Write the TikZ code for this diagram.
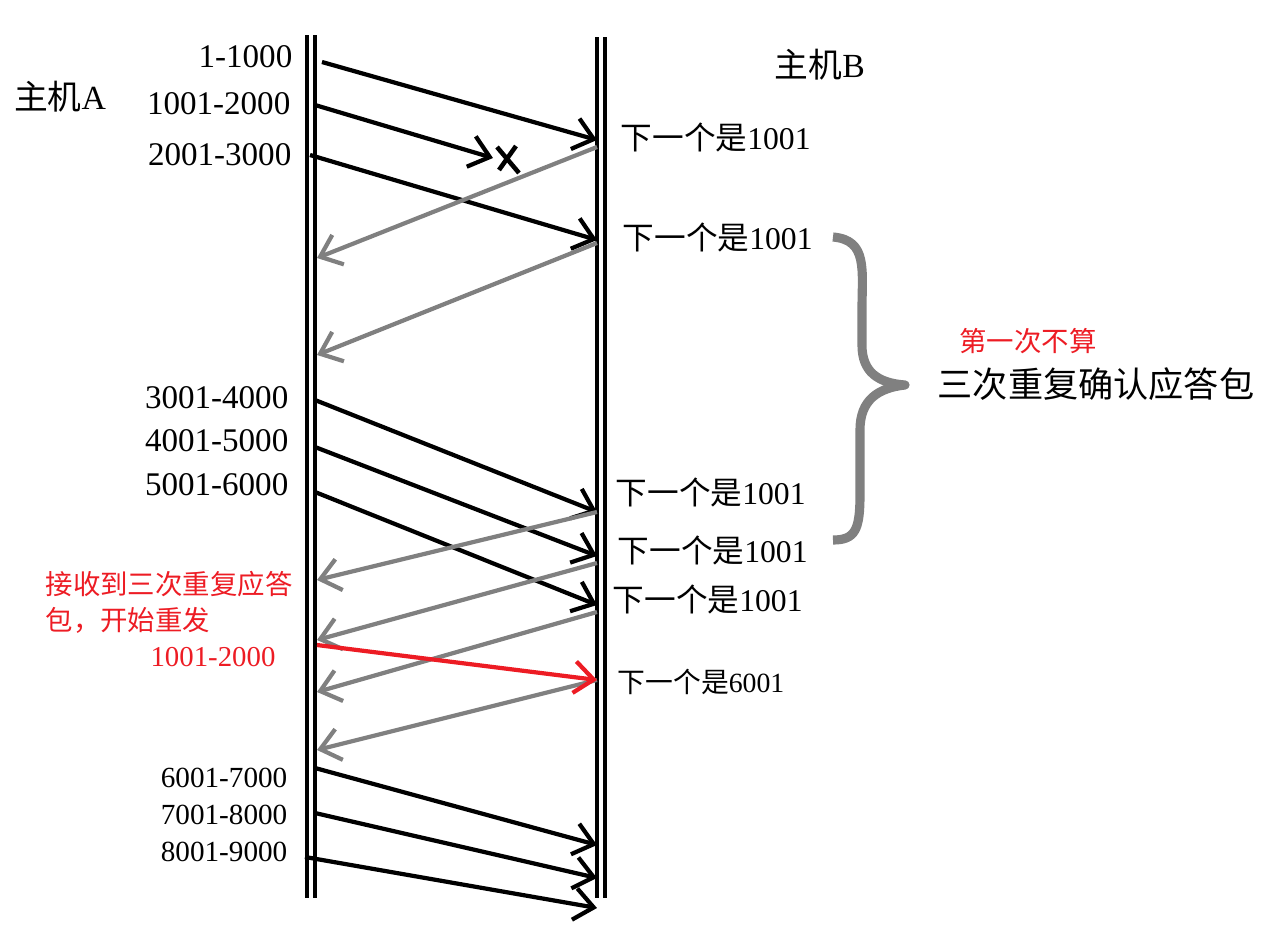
\documentclass[tikz,border=0pt]{standalone}
\usepackage{fontspec}
\setmainfont{Liberation Serif}
\newfontfamily\cjk{Noto Sans CJK SC}
\usetikzlibrary{arrows.meta, positioning}
\definecolor{ackgray}{RGB}{128,128,128}
\definecolor{resendred}{RGB}{237,28,36}
\newcommand{\nextseq}[1]{{\cjk 下一个是}#1}

\begin{document}
\begin{tikzpicture}[x=0.01cm, y=-0.01cm,
      life/.style={line width=1.1pt},
      data/.style={line width=1.2pt, -{Straight Barb[length=5.5pt, width=9pt]}},
      ack/.style={data, ackgray},
      resend/.style={data, resendred},
      seqlbl/.style={anchor=east, inner sep=0pt, font=\fontsize{9.4}{11}\selectfont},
      acklbl/.style={anchor=west, inner sep=0pt, font=\fontsize{9}{11}\selectfont},
      host/.style={inner sep=0pt, font=\fontsize{9.6}{11}\selectfont},
      note/.style={inner sep=0pt, text=resendred, font=\fontsize{7.8}{10}\selectfont}
    ]
      \useasboundingbox (0,0) rectangle (1265,945);

      % lifelines
      \draw[life] (307,35) -- (307,898);
      \draw[life] (315,35) -- (315,898);
      \draw[life] (597,37) -- (597,898);
      \draw[life] (605,37) -- (605,898);

      \node[host] (hostA) at (60,97) {{\cjk 主机}A};
      \node[host] (hostB) at (820,65) {{\cjk 主机}B};

      % segments sent by A
      \node[seqlbl] (seq1) at (293,57) {1-1000};
      \node[seqlbl] (seq2) at (291,104) {1001-2000};
      \node[seqlbl] (seq3) at (292,155) {2001-3000};
      \node[seqlbl] (seq4) at (289,398) {3001-4000};
      \node[seqlbl] (seq5) at (289,441) {4001-5000};
      \node[seqlbl] (seq6) at (289,485) {5001-6000};
      \node[seqlbl, font=\fontsize{8.3}{10}\selectfont] (seq7) at (288,778) {6001-7000};
      \node[seqlbl, font=\fontsize{8.3}{10}\selectfont] (seq8) at (288,815) {7001-8000};
      \node[seqlbl, font=\fontsize{8.3}{10}\selectfont] (seq9) at (288,852) {8001-9000};

      \foreach \i/\xa/\ya/\yb in {1/322/62/140, 3/310/155/240, 4/315/400/512, 5/315/447/556,
                                  6/315/492/605, 7/315/768/845, 8/315/813/878, 9/305/857/908} {
        \coordinate (snd\i) at (\xa,\ya);
        \coordinate (rcv\i) at (597,\yb);
        \draw[data] (snd\i) -- (rcv\i);
      }

      % lost segment
      \coordinate (snd2) at (315,105);
      \coordinate (lost) at (493,158);
      \draw[data] (snd2) -- (lost);
      \draw[line width=1.3pt] (497,147) -- (519,173) (516,146) -- (499,170);

      % duplicate acks from B
      \foreach \i/\ya/\yb in {1/147/258, 2/243/355, 3/512/580, 4/563/640, 5/612/692, 6/680/750} {
        \coordinate (ack\i) at (597,\ya);
        \coordinate (got\i) at (317,\yb);
        \draw[ack] (ack\i) -- (got\i);
      }

      \node[acklbl] (ackl1) at (620,137) {\nextseq{1001}};
      \node[acklbl] (ackl2) at (622,237) {\nextseq{1001}};
      \node[acklbl] (ackl3) at (615,492) {\nextseq{1001}};
      \node[acklbl] (ackl4) at (617,550) {\nextseq{1001}};
      \node[acklbl] (ackl5) at (612,599) {\nextseq{1001}};
      \node[acklbl, font=\fontsize{7.9}{10}\selectfont] (ackl6) at (617,682) {\nextseq{6001}};

      % fast retransmit
      \coordinate (retx) at (317,645);
      \coordinate (retxin) at (597,680);
      \draw[resend] (retx) -- (retxin);
      \node[note, anchor=west] (fr1) at (45,584) {\cjk 接收到三次重复应答};
      \node[note, anchor=west] (fr2) at (45,620) {\cjk 包，开始重发};
      \node[note, font=\fontsize{8.2}{10}\selectfont] (fr3) at (213,657) {1001-2000};

      % brace
      \draw[ackgray, line width=2.6pt, line join=round] (833,237) .. controls (868,240) and (862,270) .. (862,310)
        -- (862,345) .. controls (862,372) and (878,383) .. (905,385)
        .. controls (878,388) and (860,400) .. (860,430)
        -- (860,495) .. controls (860,530) and (855,540) .. (833,540);
      \node[note] (first) at (1028,341) {\cjk 第一次不算};
      \node[inner sep=0pt, font=\fontsize{10}{12}\selectfont] (dupack) at (1096,384) {\cjk 三次重复确认应答包};
    \end{tikzpicture}
\end{document}
